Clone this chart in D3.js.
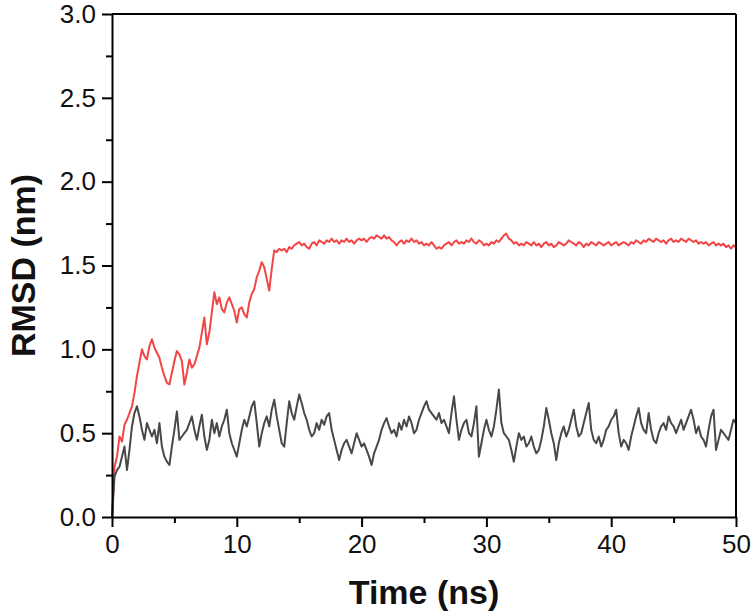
<!DOCTYPE html>
<html>
<head>
<meta charset="utf-8">
<script src="https://cdn.jsdelivr.net/npm/d3@7"></script>
<style>
  html, body { margin: 0; padding: 0; background: #fff; }
  svg { display: block; font-family: "Liberation Sans", Arial, sans-serif; }
</style>
</head>
<body>
<svg id="chart" width="754" height="616"></svg>
<script>
// Time axis: 0 to 50 ns, sampled every 0.2 ns
const timeStep = 0.2;

// Red series (RMSD, nm)
const redSeries = [
  0.00,0.30,0.36,0.48,0.45,0.55,0.58,0.62,0.66,0.74,
  0.84,0.92,1.00,0.96,0.94,1.02,1.06,1.01,0.98,0.95,
  0.89,0.84,0.80,0.79,0.86,0.93,0.99,0.97,0.93,0.79,
  0.86,0.94,0.89,0.91,0.96,1.01,1.10,1.19,1.03,1.10,
  1.22,1.34,1.27,1.31,1.24,1.22,1.28,1.31,1.27,1.23,
  1.16,1.24,1.25,1.21,1.19,1.28,1.33,1.36,1.43,1.47,
  1.52,1.49,1.42,1.35,1.48,1.59,1.58,1.60,1.59,1.60,
  1.58,1.61,1.60,1.62,1.63,1.64,1.62,1.63,1.61,1.60,
  1.63,1.64,1.62,1.65,1.64,1.63,1.65,1.64,1.66,1.64,
  1.65,1.63,1.65,1.64,1.66,1.64,1.65,1.63,1.65,1.66,
  1.65,1.66,1.64,1.66,1.67,1.66,1.68,1.67,1.66,1.68,
  1.66,1.67,1.65,1.64,1.62,1.64,1.65,1.63,1.65,1.64,
  1.66,1.64,1.65,1.63,1.64,1.62,1.63,1.62,1.64,1.62,
  1.60,1.61,1.60,1.62,1.63,1.64,1.62,1.64,1.65,1.63,
  1.64,1.63,1.65,1.64,1.66,1.64,1.63,1.65,1.64,1.62,
  1.63,1.62,1.64,1.63,1.65,1.64,1.66,1.68,1.69,1.66,
  1.65,1.63,1.64,1.62,1.63,1.62,1.64,1.63,1.62,1.64,
  1.62,1.63,1.61,1.63,1.64,1.62,1.63,1.61,1.62,1.64,
  1.63,1.62,1.63,1.65,1.64,1.63,1.62,1.64,1.63,1.61,
  1.63,1.62,1.64,1.63,1.62,1.64,1.63,1.62,1.63,1.64,
  1.62,1.63,1.64,1.62,1.63,1.64,1.63,1.62,1.64,1.63,
  1.65,1.64,1.63,1.65,1.64,1.66,1.65,1.64,1.66,1.65,
  1.64,1.65,1.63,1.65,1.66,1.64,1.65,1.64,1.66,1.65,
  1.64,1.66,1.65,1.64,1.65,1.63,1.64,1.63,1.64,1.62,
  1.63,1.64,1.62,1.63,1.62,1.63,1.61,1.62,1.60,1.62,
  1.61
];

// Dark grey series (RMSD, nm)
const greySeries = [
  0.00,0.24,0.28,0.30,0.36,0.42,0.28,0.40,0.54,0.62,
  0.66,0.60,0.52,0.46,0.56,0.52,0.48,0.52,0.44,0.56,
  0.42,0.36,0.33,0.31,0.42,0.52,0.63,0.46,0.48,0.50,
  0.52,0.56,0.60,0.52,0.46,0.54,0.61,0.48,0.40,0.46,
  0.58,0.50,0.56,0.48,0.54,0.58,0.64,0.50,0.44,0.40,
  0.36,0.44,0.52,0.58,0.54,0.60,0.66,0.69,0.56,0.42,
  0.50,0.56,0.60,0.54,0.64,0.70,0.60,0.52,0.44,0.42,
  0.56,0.69,0.62,0.58,0.66,0.73,0.68,0.62,0.58,0.52,
  0.48,0.50,0.56,0.52,0.58,0.55,0.60,0.62,0.52,0.46,
  0.40,0.34,0.40,0.44,0.46,0.42,0.38,0.44,0.50,0.46,
  0.42,0.44,0.40,0.36,0.31,0.38,0.42,0.46,0.52,0.56,
  0.59,0.54,0.50,0.52,0.48,0.56,0.52,0.58,0.54,0.60,
  0.56,0.50,0.52,0.58,0.62,0.66,0.69,0.64,0.62,0.60,
  0.58,0.62,0.56,0.58,0.54,0.50,0.62,0.72,0.58,0.46,
  0.52,0.56,0.58,0.50,0.48,0.56,0.66,0.36,0.44,0.52,
  0.58,0.52,0.48,0.54,0.64,0.76,0.56,0.50,0.48,0.46,
  0.40,0.33,0.42,0.50,0.46,0.48,0.42,0.44,0.48,0.42,
  0.38,0.40,0.46,0.54,0.65,0.58,0.50,0.44,0.34,0.44,
  0.50,0.54,0.48,0.52,0.58,0.64,0.54,0.48,0.50,0.56,
  0.62,0.68,0.52,0.46,0.44,0.48,0.42,0.46,0.52,0.54,
  0.58,0.60,0.64,0.50,0.42,0.46,0.44,0.40,0.48,0.54,
  0.60,0.65,0.56,0.52,0.50,0.62,0.52,0.46,0.44,0.50,
  0.54,0.56,0.52,0.60,0.56,0.54,0.50,0.54,0.58,0.52,
  0.56,0.60,0.64,0.58,0.50,0.54,0.48,0.46,0.42,0.52,
  0.60,0.64,0.40,0.46,0.52,0.50,0.48,0.46,0.52,0.58,
  0.56
];

const xTicks = [0, 10, 20, 30, 40, 50];
const xMinorTicks = [5, 15, 25, 35, 45];
const yTicks = [0.0, 0.5, 1.0, 1.5, 2.0, 2.5, 3.0];
const yMinorTicks = [0.25, 0.75, 1.25, 1.75, 2.25, 2.75];
const xLabel = "Time (ns)";
const yLabel = "RMSD (nm)";

const svg = d3.select("#chart");
const W = 754, H = 616;
const margin = { left: 112, right: 18, top: 14, bottom: 99 };
const iw = W - margin.left - margin.right;
const ih = H - margin.top - margin.bottom;

const x = d3.scaleLinear().domain([0, 50]).range([0, iw]);
const y = d3.scaleLinear().domain([0, 3]).range([ih, 0]);

const g = svg.append("g").attr("transform", `translate(${margin.left},${margin.top})`);

const toPts = arr => arr.map((v, i) => [i * timeStep, v]);
const line = d3.line().x(d => x(d[0])).y(d => y(d[1]));

g.append("path")
  .datum(toPts(redSeries))
  .attr("fill", "none")
  .attr("stroke", "#f24545")
  .attr("stroke-width", 2)
  .attr("stroke-linejoin", "round")
  .attr("d", line);

g.append("path")
  .datum(toPts(greySeries))
  .attr("fill", "none")
  .attr("stroke", "#484848")
  .attr("stroke-width", 2)
  .attr("stroke-linejoin", "round")
  .attr("d", line);

// Frame (top and right)
g.append("line").attr("x1", 0).attr("x2", iw).attr("y1", 0).attr("y2", 0)
  .attr("stroke", "#000").attr("stroke-width", 2);
g.append("line").attr("x1", iw).attr("x2", iw).attr("y1", 0).attr("y2", ih)
  .attr("stroke", "#000").attr("stroke-width", 2);

// Minor ticks
g.append("g").attr("transform", `translate(0,${ih})`)
  .call(d3.axisBottom(x).tickValues(xMinorTicks).tickSize(6).tickFormat(""))
  .call(a => a.select(".domain").remove())
  .selectAll("line").attr("stroke-width", 2);
g.append("g")
  .call(d3.axisLeft(y).tickValues(yMinorTicks).tickSize(6).tickFormat(""))
  .call(a => a.select(".domain").remove())
  .selectAll("line").attr("stroke-width", 2);

// Major axes
const xAxis = g.append("g").attr("transform", `translate(0,${ih})`)
  .call(d3.axisBottom(x).tickValues(xTicks).tickSize(10).tickSizeOuter(0).tickPadding(8).tickFormat(d3.format("d")));
const yAxis = g.append("g")
  .call(d3.axisLeft(y).tickValues(yTicks).tickSize(10).tickSizeOuter(0).tickPadding(6).tickFormat(d3.format(".1f")));

[xAxis, yAxis].forEach(a => {
  a.select(".domain").attr("stroke-width", 2);
  a.selectAll(".tick line").attr("stroke-width", 2);
  a.selectAll("text").attr("font-size", 26).attr("fill", "#111")
    .attr("font-family", "'Liberation Sans', Arial, sans-serif");
});

// Axis titles
svg.append("text")
  .attr("x", margin.left + iw / 2)
  .attr("y", 604)
  .attr("text-anchor", "middle")
  .attr("font-size", 34)
  .attr("font-weight", "bold")
  .attr("fill", "#111")
  .text(xLabel);

svg.append("text")
  .attr("transform", `translate(35,${margin.top + ih / 2}) rotate(-90)`)
  .attr("text-anchor", "middle")
  .attr("font-size", 34)
  .attr("font-weight", "bold")
  .attr("fill", "#111")
  .text(yLabel);
</script>
</body>
</html>
